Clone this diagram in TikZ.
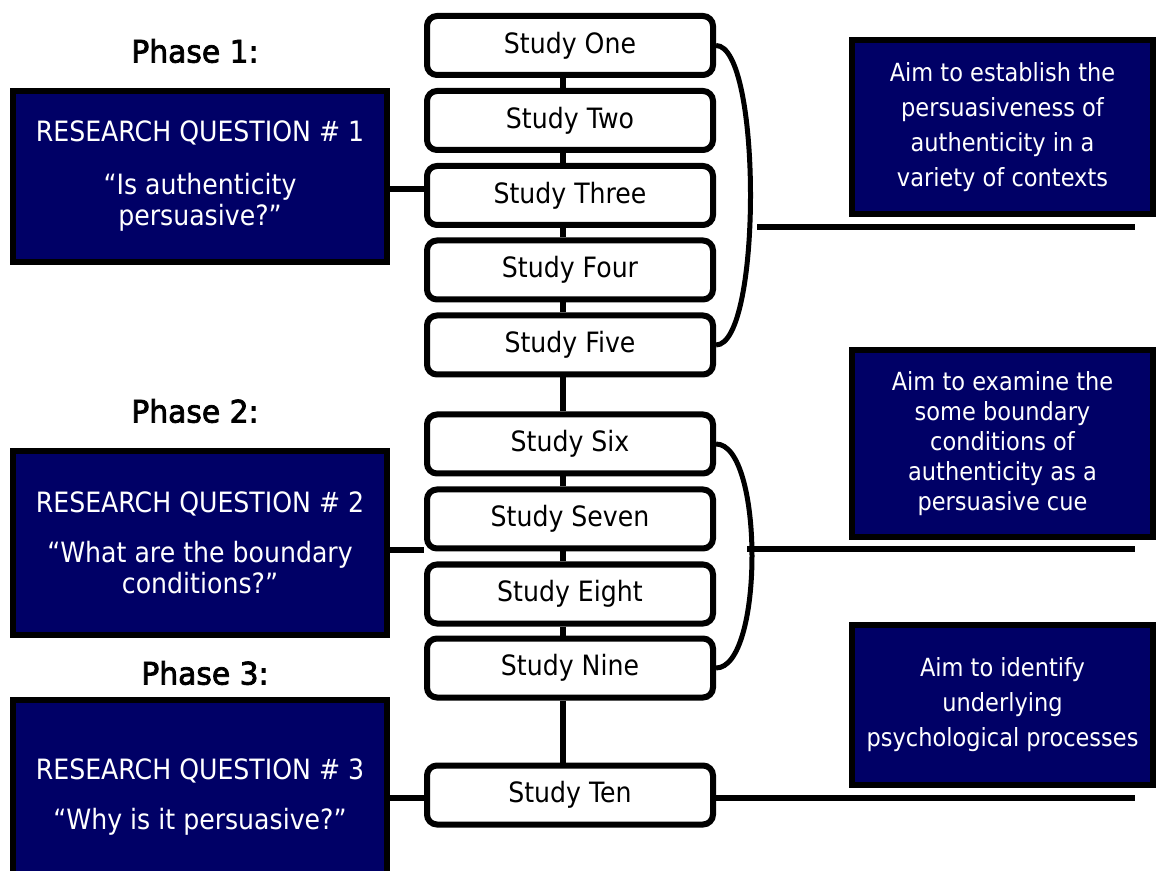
\documentclass[tikz,border=0pt]{standalone}
\usepackage{fontspec}
\setmainfont{DejaVu Sans}[FakeStretch=0.9]
\newfontfamily\phasefont{DejaVu Sans}[FakeStretch=0.96,FakeBold=2.5]
\begin{document}
\begin{tikzpicture}[x=0.5pt,y=-0.5pt,
  study/.style={draw,line width=3pt,rounded corners=5pt,fill=white,minimum width=143pt,minimum height=29.5pt,inner sep=0pt,font=\fontsize{14}{15}\selectfont},
  rq/.style={draw,line width=3pt,fill=kNavy,text=white,minimum width=187pt,align=center,inner sep=0pt,font=\fontsize{14}{15.5}\selectfont},
  aim/.style={draw,line width=3pt,fill=kNavy,text=white,minimum width=150.5pt,align=center,inner sep=0pt},
  phase/.style={font=\phasefont\fontsize{15.5}{17}\selectfont},
  link/.style={line width=3pt},
  brace/.style={line width=2.5pt}]
  % colors
  \definecolor{kNavy}{rgb}{0.0,0.0,0.40}
  \useasboundingbox (0,0) rectangle (1157,871);
  % studies
  \foreach \name/\label/\y in {one/One/45.5, two/Two/120.5, three/Three/195.5, four/Four/270, five/Five/345, six/Six/444, seven/Seven/519, eight/Eight/594, nine/Nine/668, ten/Ten/795}
    \node[study] (\name) at (570,\y) {Study \label};
  \foreach \a/\b in {one/two, two/three, three/four, four/five, five/six, six/seven, seven/eight, eight/nine, nine/ten}
    \draw[link] ([xshift=-3.5pt]\a.south) -- ([xshift=-3.5pt]\b.north);
  % phases
  \node[phase] (phase1) at (195,51) {Phase 1:};
  \node[phase] (phase2) at (195,411) {Phase 2:};
  \node[phase] (phase3) at (205,673) {Phase 3:};
  % research questions
  \node[rq,minimum height=85.5pt] (rq1) at (200,176.5) {RESEARCH QUESTION \# 1\\[11pt] “Is authenticity\\ persuasive?”};
  \node[rq,minimum height=92pt] (rq2) at (200,543) {RESEARCH QUESTION \# 2\\[9.5pt] “What are the boundary\\ conditions?”};
  \node[rq,minimum height=97pt] (rq3) at (200,797) {RESEARCH QUESTION \# 3\\[9.5pt] “Why is it persuasive?”};
  \draw[link] (rq1.east |- 0,189) -- (three.west |- 0,189);
  \draw[link] (rq2.east |- 0,550) -- (seven.west |- 0,550);
  \draw[link] (rq3.east |- 0,798) -- (ten.west |- 0,798);
  % aims
  \node[aim,minimum height=87pt,font=\fontsize{12.5}{17.5}\selectfont] (aim1) at (1002.5,127) {Aim to establish the\\ persuasiveness of\\ authenticity in a\\ variety of contexts};
  \node[aim,minimum height=93.5pt,font=\fontsize{12.5}{15}\selectfont] (aim2) at (1002.5,443.5) {Aim to examine the\\ some boundary\\ conditions of\\ authenticity as a\\ persuasive cue};
  \node[aim,minimum height=80pt,font=\fontsize{12.5}{17.5}\selectfont] (aim3) at (1002.5,705) {Aim to identify\\ underlying\\ psychological processes};
  % braces
  \draw[brace] (one.east) .. controls +(46,0) and +(46,0) .. (five.east);
  \draw[brace] (six.east) .. controls +(48,0) and +(48,0) .. (nine.east);
  \coordinate (l1) at (757,227);
  \coordinate (l2) at (747,549);
  \coordinate (e1) at (1135,227);
  \coordinate (e2) at (1135,549);
  \coordinate (e3) at (1135,798);
  \draw[link] (l1) -- (e1);
  \draw[link] (l2) -- (e2);
  \draw[link] (ten.east |- e3) -- (e3);
\end{tikzpicture}
\end{document}
